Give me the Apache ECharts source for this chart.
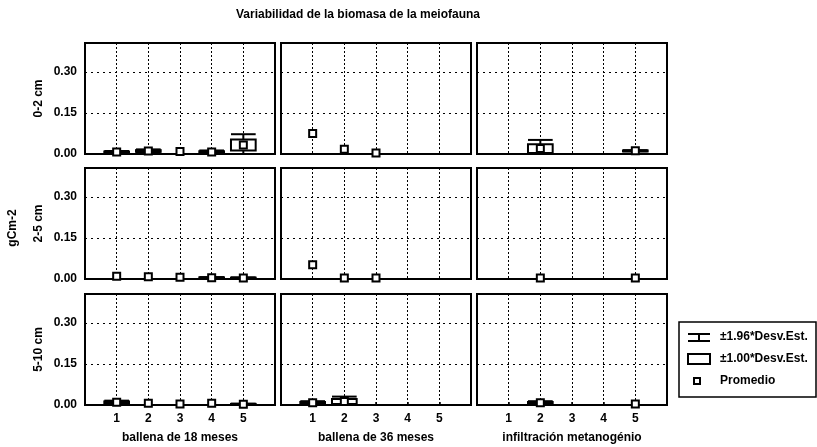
<!DOCTYPE html>
<html><head><meta charset="utf-8">
<script src="https://cdn.jsdelivr.net/npm/echarts@6/dist/echarts.min.js"></script>
<style>html,body{margin:0;padding:0;background:#fff}#c{width:817px;height:447px}</style>
</head><body><div id="c"></div>
<script>
// ---- data (gC m-2) ----
const categories = [1, 2, 3, 4, 5];
const depthLabels = ['0-2 cm', '2-5 cm', '5-10 cm'];
const siteLabels = ['ballena de 18 meses', 'ballena de 36 meses', 'infiltración metanogénio'];
const yTicks = [0, 0.15, 0.30];
const titleText = 'Variabilidad de la biomasa de la meiofauna';
const yName = 'gCm-2';
const legendLabels = ['±1.96*Desv.Est.', '±1.00*Desv.Est.', 'Promedio'];

// 0-2 cm
const mean_02_b18 = [0.007, 0.011, 0.009, 0.007, 0.033];
const sd_02_b18   = [0.002, 0.003, 0, 0.003, 0.020];
const mean_02_b36 = [0.075, 0.017, 0.004, null, null];
const sd_02_b36   = [0, 0, 0, null, null];
const mean_02_inf = [null, 0.020, null, null, 0.012];
const sd_02_inf   = [null, 0.016, null, null, 0.001];
// 2-5 cm
const mean_25_b18 = [0.010, 0.008, 0.006, 0.005, 0.004];
const sd_25_b18   = [0, 0, 0, 0.001, 0.001];
const mean_25_b36 = [0.052, 0.004, 0.004, null, null];
const sd_25_b36   = [0, 0, 0, null, null];
const mean_25_inf = [null, 0.004, null, null, 0.004];
const sd_25_inf   = [null, 0, null, null, 0];
// 5-10 cm
const mean_510_b18 = [0.010, 0.006, 0.004, 0.006, 0.003];
const sd_510_b18   = [0.003, 0, 0, 0, 0.001];
const mean_510_b36 = [0.008, 0.013, null, null, null];
const sd_510_b36   = [0.003, 0.009, null, null, null];
const mean_510_inf = [null, 0.008, null, null, 0.004];
const sd_510_inf   = [null, 0.003, null, null, 0];

const panelMeans = [
  [mean_02_b18, mean_02_b36, mean_02_inf],
  [mean_25_b18, mean_25_b36, mean_25_inf],
  [mean_510_b18, mean_510_b36, mean_510_inf]
];
const panelSds = [
  [sd_02_b18, sd_02_b36, sd_02_inf],
  [sd_25_b18, sd_25_b36, sd_25_inf],
  [sd_510_b18, sd_510_b36, sd_510_inf]
];

// ---- layout ----
const FONT = "'Liberation Sans', Arial, sans-serif";
const colLeft = [85, 281, 477];
const rowTop = [43, 168, 294];
const PW = 190, PH = 111;
const HALF = 0.39;

function renderBox(params, api) {
  const x = api.value(0), m = api.value(1), s = api.value(2) || 0;
  const children = [];
  const st = { stroke: '#000', lineWidth: 2, fill: null };
  if (s > 0) {
    const wLo = Math.max(0, m - 1.96 * s), wHi = m + 1.96 * s;
    const bLo = Math.max(0, m - s), bHi = m + s;
    const a = api.coord([x - HALF, wHi]), b = api.coord([x + HALF, wLo]);
    const c = api.coord([x, m]);
    children.push({ type: 'line', shape: { x1: c[0], y1: a[1], x2: c[0], y2: b[1] }, style: st });
    children.push({ type: 'line', shape: { x1: a[0], y1: a[1], x2: b[0], y2: a[1] }, style: st });
    children.push({ type: 'line', shape: { x1: a[0], y1: b[1], x2: b[0], y2: b[1] }, style: st });
    const p = api.coord([x - HALF, bHi]), q = api.coord([x + HALF, bLo]);
    children.push({ type: 'rect', shape: { x: p[0], y: p[1], width: q[0] - p[0], height: Math.max(1, q[1] - p[1]) },
      style: { stroke: '#000', fill: '#fff', lineWidth: 2 } });
  }
  const c = api.coord([x, m]);
  children.push({ type: 'rect', shape: { x: c[0] - 3.5, y: c[1] - 3.5, width: 7, height: 7 },
    style: { stroke: '#000', fill: '#fff', lineWidth: 2 } });
  return { type: 'group', children };
}

const grid = [], xAxis = [], yAxis = [], series = [];
for (let r = 0; r < 3; r++) {
  for (let c = 0; c < 3; c++) {
    const i = r * 3 + c;
    grid.push({ left: colLeft[c], top: rowTop[r], width: PW, height: PH, show: true,
      borderColor: '#000', borderWidth: 2, backgroundColor: 'transparent', containLabel: false });
    xAxis.push({
      type: 'value', gridIndex: i, min: 0, max: 6, interval: 1,
      axisLine: { show: false },
      axisTick: { show: r === 2, inside: true, length: 3, lineStyle: { color: '#000', width: 1.5 } },
      axisLabel: { show: r === 2, margin: 8, color: '#000', fontFamily: FONT, fontWeight: 'bold', fontSize: 12,
        formatter: v => (categories.indexOf(v) >= 0 ? String(v) : '') },
      splitLine: { show: true, lineStyle: { color: '#000', type: [2, 2], width: 1 } },
      name: r === 2 ? siteLabels[c] : '', nameLocation: 'middle', nameGap: 27,
      nameTextStyle: { color: '#000', fontFamily: FONT, fontWeight: 'bold', fontSize: 12 }
    });
    yAxis.push({
      type: 'value', gridIndex: i, min: 0, max: 0.405, interval: 0.15,
      axisLine: { show: false },
      axisTick: { show: false },
      axisLabel: { show: c === 0, margin: 8, color: '#000', fontFamily: FONT, fontWeight: 'bold', fontSize: 12,
        formatter: v => (yTicks.some(t => Math.abs(t - v) < 1e-6) ? v.toFixed(2) : '') },
      splitLine: { show: true, lineStyle: { color: '#000', type: [2, 4], width: 1.2 } },
      name: c === 0 ? depthLabels[r] : '', nameLocation: 'middle', nameGap: 40,
      nameTextStyle: { color: '#000', fontFamily: FONT, fontWeight: 'bold', fontSize: 12 }
    });
    const means = panelMeans[r][c], sds = panelSds[r][c];
    const data = [];
    categories.forEach((x, k) => { if (means[k] != null) data.push([x, means[k], sds[k] || 0]); });
    series.push({ type: 'custom', xAxisIndex: i, yAxisIndex: i, data, renderItem: renderBox,
      silent: true, z: 5, animation: false });
  }
}

const LX = 679, LY = 322;
const lineSt = { stroke: '#000', lineWidth: 2, fill: null };
const txt = { fill: '#000', font: 'bold 12px ' + FONT, textVerticalAlign: 'middle' };
const graphic = [
  { type: 'text', left: 'center', x: 358, y: 15, style: { text: titleText, fill: '#000', font: 'bold 12px ' + FONT,
    textAlign: 'center', textVerticalAlign: 'middle' } },
  { type: 'text', x: 13, y: 228, rotation: Math.PI / 2, style: { text: yName, fill: '#000', font: 'bold 12px ' + FONT,
    textAlign: 'center', textVerticalAlign: 'middle' } },
  { type: 'rect', shape: { x: LX, y: LY, width: 137, height: 75 }, style: { stroke: '#000', lineWidth: 1.5, fill: '#fff' } },
  { type: 'line', shape: { x1: LX + 9, y1: LY + 12, x2: LX + 31, y2: LY + 12 }, style: lineSt },
  { type: 'line', shape: { x1: LX + 9, y1: LY + 19, x2: LX + 31, y2: LY + 19 }, style: lineSt },
  { type: 'line', shape: { x1: LX + 20, y1: LY + 12, x2: LX + 20, y2: LY + 19 }, style: lineSt },
  { type: 'rect', shape: { x: LX + 9, y: LY + 32, width: 22, height: 10 }, style: lineSt },
  { type: 'rect', shape: { x: LX + 15, y: LY + 56, width: 6, height: 6 }, style: { stroke: '#000', lineWidth: 2, fill: '#fff' } },
  { type: 'text', x: LX + 41, y: LY + 15, style: Object.assign({ text: legendLabels[0] }, txt) },
  { type: 'text', x: LX + 41, y: LY + 37, style: Object.assign({ text: legendLabels[1] }, txt) },
  { type: 'text', x: LX + 41, y: LY + 59, style: Object.assign({ text: legendLabels[2] }, txt) }
];
graphic[0].left = undefined;

const chart = echarts.init(document.getElementById('c'), null, { renderer: 'canvas' });
chart.setOption({ backgroundColor: '#fff', animation: false, grid, xAxis, yAxis, series, graphic });
</script></body></html>
